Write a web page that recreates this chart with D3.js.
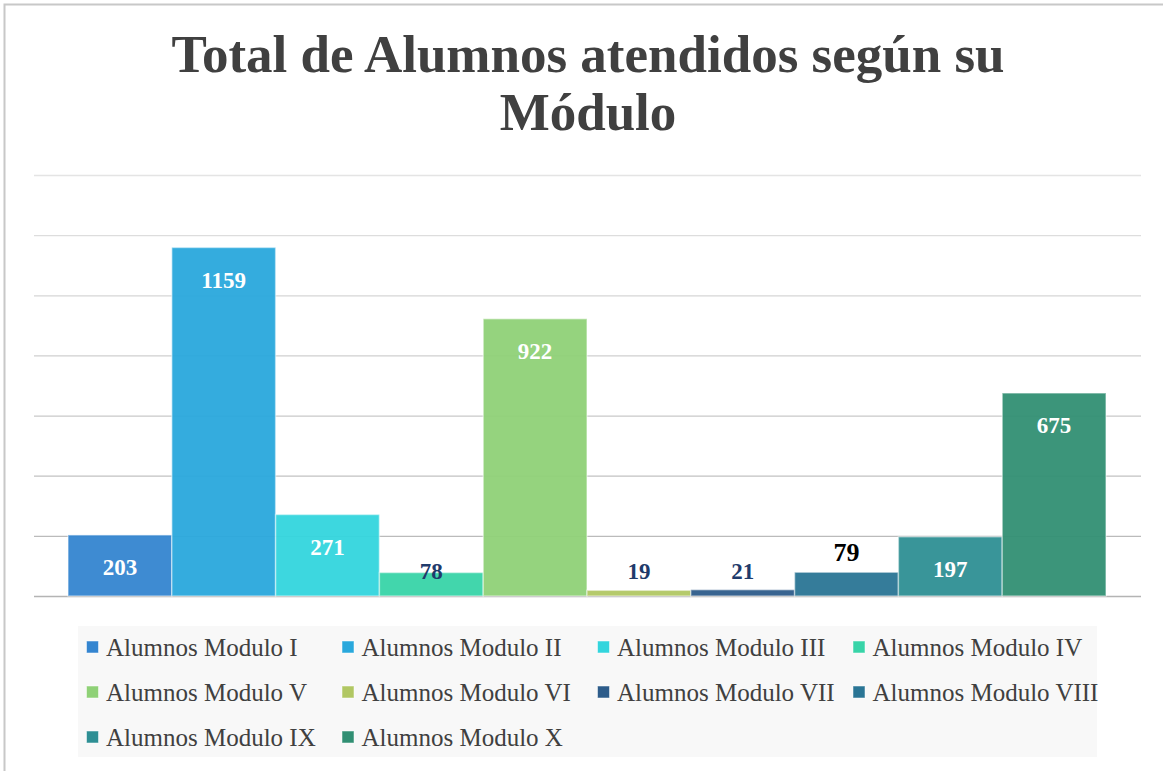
<!DOCTYPE html>
<html>
<head>
<meta charset="utf-8">
<script src="https://cdn.jsdelivr.net/npm/d3@7"></script>
<style>
  body { margin: 0; background: #fff; }
  svg { display: block; }
</style>
</head>
<body>
<div id="chart"></div>
<script>
// chart data
var modules = ["Alumnos Modulo I", "Alumnos Modulo II", "Alumnos Modulo III", "Alumnos Modulo IV",
  "Alumnos Modulo V", "Alumnos Modulo VI", "Alumnos Modulo VII", "Alumnos Modulo VIII",
  "Alumnos Modulo IX", "Alumnos Modulo X"];
var students = [203, 1159, 271, 78, 922, 19, 21, 79, 197, 675];
var yTicks = [0, 200, 400, 600, 800, 1000, 1200, 1400];
var titleLines = ["Total de Alumnos atendidos según su", "Módulo"];

// colours per series and for the value labels
var colors = ["#3485d0", "#29a8dc", "#33d5dd", "#38d4a8", "#8fd177",
  "#b1c763", "#2d5c8a", "#2a7595", "#2e8f94", "#318f73"];
var labelColors = ["#fff", "#fff", "#fff", "#1f3b6b", "#fff",
  "#1f3b6b", "#1f3b6b", "#000", "#fff", "#fff"];

var width = 1163, height = 771;

var svg = d3.select("#chart").append("svg")
  .attr("width", width)
  .attr("height", height);

// outer frame (right and bottom edges fall outside the picture)
svg.append("rect")
  .attr("x", 4.5).attr("y", 4.5)
  .attr("width", 1180).attr("height", 790)
  .attr("fill", "#fff")
  .attr("stroke", "#c8c8c8")
  .attr("stroke-width", 2);

// title
svg.append("g").selectAll("text")
  .data(titleLines)
  .enter().append("text")
    .attr("x", 588)
    .attr("y", function(d, i) { return 72 + i * 58; })
    .attr("text-anchor", "middle")
    .style("font", "bold 53px 'Liberation Serif', serif")
    .style("fill", "#404040")
    .text(function(d) { return d; });

// scales
var y = d3.scaleLinear()
  .domain([0, 1400])
  .range([596, 175]);

var x = d3.scaleBand()
  .domain(modules)
  .range([68, 1106])
  .padding(0);

// gridlines, lighter towards the top
var gridColor = d3.scaleLinear()
  .domain([0, 1400])
  .range(["#b4b4b4", "#e4e4e4"]);

svg.append("g").selectAll("line")
  .data(yTicks)
  .enter().append("line")
    .attr("x1", 34).attr("x2", 1141)
    .attr("y1", function(d) { return y(d) + 0.5; })
    .attr("y2", function(d) { return y(d) + 0.5; })
    .attr("stroke", function(d) { return gridColor(d); })
    .attr("stroke-width", 1.3);

// bars
svg.append("g").selectAll("rect")
  .data(students)
  .enter().append("rect")
    .attr("x", function(d, i) { return x(modules[i]); })
    .attr("y", function(d) { return y(d); })
    .attr("width", x.bandwidth())
    .attr("height", function(d) { return y(0) - y(d); })
    .attr("fill", function(d, i) { return colors[i]; })
    .attr("fill-opacity", 0.95)
    .attr("stroke", "rgba(255,255,255,0.45)")
    .attr("stroke-width", 1.5);

// value labels
svg.append("g").selectAll("text")
  .data(students)
  .enter().append("text")
    .attr("x", function(d, i) { return x(modules[i]) + x.bandwidth() / 2; })
    .attr("y", function(d, i) {
      if (i === 7) return y(d) - 20;
      return Math.min(y(d) + 32, 571);
    })
    .attr("dy", "0.35em")
    .attr("text-anchor", "middle")
    .style("font-family", "'Liberation Serif', serif")
    .style("font-weight", "bold")
    .style("font-size", function(d, i) { return i === 7 ? "26px" : "23px"; })
    .style("fill", function(d, i) { return labelColors[i]; })
    .text(function(d) { return d; });

// legend
var legend = svg.append("g");

legend.append("rect")
  .attr("x", 78).attr("y", 626)
  .attr("width", 1019).attr("height", 131)
  .attr("fill", "#f8f8f8");

var items = legend.selectAll(".item")
  .data(modules)
  .enter().append("g")
    .attr("class", "item")
    .attr("transform", function(d, i) {
      return "translate(" + (86 + (i % 4) * 255.5) + "," + (647 + Math.floor(i / 4) * 45) + ")";
    });

items.append("rect")
  .attr("x", 0.5).attr("y", -6)
  .attr("width", 12).attr("height", 12)
  .attr("fill", function(d, i) { return colors[i]; })
  .attr("stroke", "rgba(255,255,255,0.5)")
  .attr("stroke-width", 1);

items.append("text")
  .attr("x", 20)
  .attr("y", 0)
  .attr("dy", "0.35em")
  .style("font", "25px 'Liberation Serif', serif")
  .style("fill", "#404040")
  .text(function(d) { return d; });
</script>
</body>
</html>
